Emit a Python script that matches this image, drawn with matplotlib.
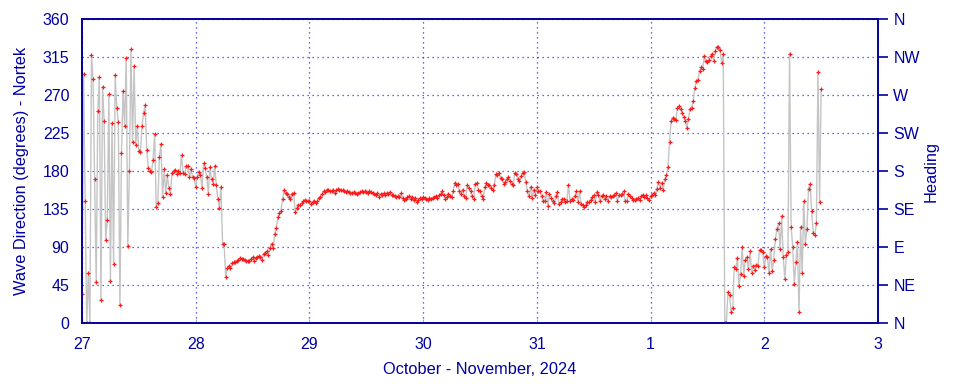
import matplotlib
matplotlib.use("Agg")
import matplotlib.pyplot as plt
import matplotlib.dates as mdates
from matplotlib.ticker import FixedLocator, FuncFormatter
import datetime as dt

# ---- data (20-minute samples starting 2024-10-27 00:00) ----
start_time = dt.datetime(2024, 10, 27, 0, 0)
step_minutes = 20

day27 = [34, 295, 144, 0, 59, 0, 317, 289, 170, 48, 251, 291, 27, 280, 239, 98, 122, 271,
         50, 237, 70, 294, 255, 238, 21, 201, 275, 233, 314, 91, 180, 324, 214, 304, 211, 233,
         204, 203, 233, 249, 258, 205, 184, 180, 179, 193, 224, 137, 142, 197, 212, 149, 182, 154,
         175, 160, 153, 178, 180, 181, 176, 180, 178, 199, 178, 176, 186, 186, 173, 182, 173, 172]
day28 = [161, 173, 179, 175, 160, 189, 183, 173, 153, 185, 170, 165, 186, 163, 147, 136, 161, 94,
         94, 55, 65, 68, 65, 71, 72, 72, 73, 75, 77, 76, 76, 75, 74, 74, 74, 76,
         78, 74, 77, 78, 79, 78, 75, 82, 83, 85, 81, 89, 94, 89, 105, 113, 125, 130,
         133, 147, 158, 154, 153, 149, 147, 153, 154, 131, 136, 140, 140, 142, 144, 146, 144, 145]
day29 = [145, 141, 143, 144, 142, 144, 148, 149, 153, 156, 155, 158, 157, 156, 156, 157, 154, 157,
         159, 158, 158, 157, 156, 155, 156, 155, 154, 154, 155, 154, 153, 154, 155, 156, 155, 156,
         155, 154, 156, 155, 154, 153, 152, 154, 149, 153, 152, 154, 151, 154, 153, 155, 152, 151,
         150, 149, 150, 149, 154, 148, 146, 147, 149, 150, 147, 149, 146, 148, 143, 146, 148, 147]
day30 = [149, 148, 147, 146, 148, 147, 148, 149, 150, 148, 151, 153, 156, 151, 147, 149, 153, 150,
         149, 156, 166, 164, 165, 156, 153, 158, 150, 148, 163, 160, 156, 150, 147, 165, 166, 158,
         156, 150, 147, 161, 166, 164, 163, 160, 158, 163, 176, 175, 178, 172, 170, 165, 167, 170,
         173, 168, 165, 163, 178, 177, 171, 168, 174, 178, 179, 167, 156, 150, 161, 148, 158, 152]
day31 = [161, 156, 156, 150, 144, 145, 155, 138, 153, 148, 144, 142, 150, 155, 141, 143, 147, 147,
         143, 144, 164, 145, 147, 146, 150, 156, 143, 156, 141, 140, 137, 140, 143, 143, 146, 149,
         151, 143, 155, 151, 144, 150, 151, 147, 150, 145, 150, 149, 150, 151, 154, 145, 151, 151,
         153, 156, 144, 145, 153, 150, 148, 146, 146, 147, 148, 146, 150, 152, 149, 151, 148, 146]
day01 = [150, 152, 154, 151, 159, 167, 160, 166, 157, 170, 175, 185, 214, 239, 243, 242, 240, 255,
         257, 253, 249, 244, 239, 231, 242, 254, 255, 263, 278, 287, 288, 298, 303, 301, 316, 310,
         309, 312, 316, 319, 310, 322, 327, 327, 323, 308, 318, 0, 0, 37, 33, 13, 18, 66,
         64, 77, 44, 58, 90, 56, 75, 78, 64, 85, 59, 68, 63, 69, 68, 87, 86, 84]
day02 = [66, 79, 78, 59, 88, 62, 75, 99, 111, 118, 88, 127, 78, 52, 81, 84, 319, 114,
         90, 46, 72, 96, 13, 114, 59, 144, 94, 111, 159, 165, 133, 106, 104, 118, 297, 143, 277]

direction = day27 + day28 + day29 + day30 + day31 + day01 + day02
times = [start_time + dt.timedelta(minutes=step_minutes * i) for i in range(len(direction))]

y_ticks = [0, 45, 90, 135, 180, 225, 270, 315, 360]
heading_labels = ["N", "NE", "E", "SE", "S", "SW", "W", "NW", "N"]
x_ticks = [dt.datetime(2024, 10, 27) + dt.timedelta(days=d) for d in range(8)]
x_label = "October - November, 2024"
y_label = "Wave Direction (degrees) - Nortek"
y2_label = "Heading"

# ---- styling ----
plt.rcParams["font.family"] = ["Liberation Sans", "DejaVu Sans"]
navy = "#00009c"
txt = "#0000a0"
grid_c = "#3030ff"
fs_tick = 11.5
fs_label = 11.8

fig = plt.figure(figsize=(9.6, 3.84), dpi=100)
ax = fig.add_axes([82 / 960, 1 - 323 / 384, (878 - 82) / 960, (323 - 19) / 384])

ax.plot(times, direction, color="#c4c4c4", lw=1.0, zorder=2)
ax.plot(times, direction, linestyle="none", marker="+", ms=3.5, mew=0.9,
        color="#ff1a1a", zorder=3)

ax.set_xlim(x_ticks[0], x_ticks[-1])
ax.set_ylim(0, 360)
ax.yaxis.set_major_locator(FixedLocator(y_ticks))
ax.set_xticks(x_ticks)
ax.xaxis.set_major_formatter(FuncFormatter(lambda v, p: str(mdates.num2date(v).day)))

ax.grid(True, color=grid_c, linestyle=(0, (1, 3)), linewidth=0.9, zorder=1)
for s in ax.spines.values():
    s.set_color(navy)
    s.set_linewidth(1.2)

ax.tick_params(axis="y", colors=navy, labelcolor=txt, labelsize=fs_tick, length=0, pad=9)
ax.tick_params(axis="x", colors="#b0b0b0", labelcolor=txt, labelsize=fs_tick, length=3,
               direction="in", pad=10)
ax.set_xlabel(x_label, color=txt, fontsize=fs_label, labelpad=7)
ax.set_ylabel(y_label, color=txt, fontsize=fs_label, labelpad=10)

ax2 = ax.twinx()
ax2.set_ylim(0, 360)
ax2.yaxis.set_major_locator(FixedLocator(y_ticks))
ax2.set_yticklabels(heading_labels)
ax2.tick_params(axis="y", colors=navy, labelcolor=txt, labelsize=fs_tick, length=7, width=1.2,
                direction="out", pad=4)
for s in ax2.spines.values():
    s.set_color(navy)
    s.set_linewidth(1.2)
ax2.set_ylabel(y2_label, color=txt, fontsize=fs_label, labelpad=3)

fig.savefig("out.png", dpi=100)
